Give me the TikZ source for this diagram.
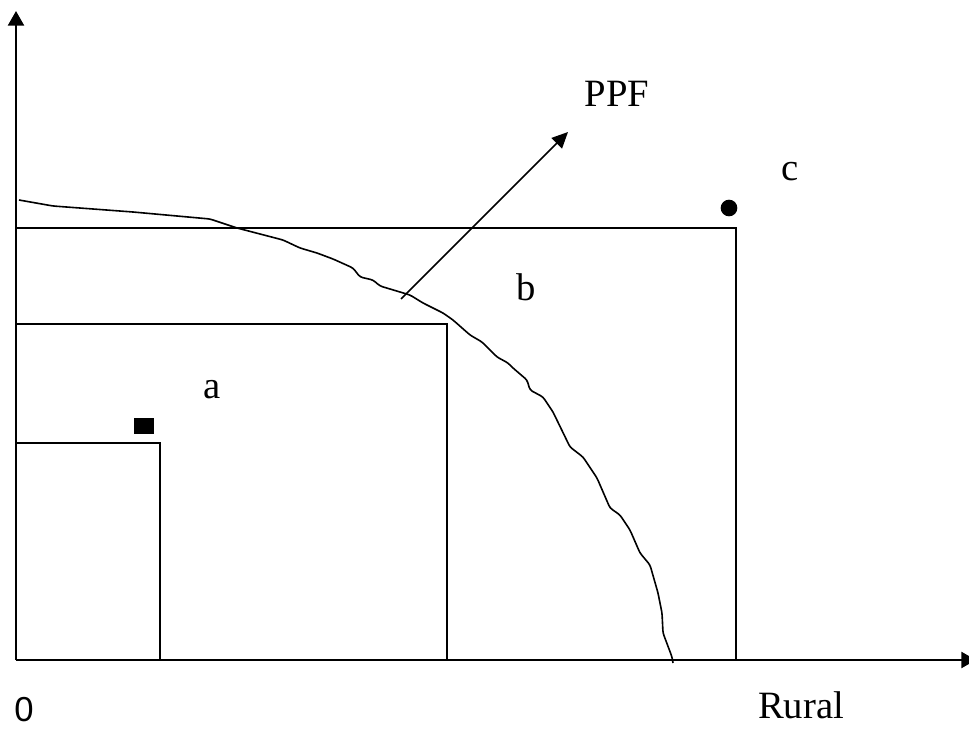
\documentclass[tikz,border=0pt]{standalone}
\usepackage{fontspec}
\setmainfont{Liberation Serif}
\newfontfamily\zerofont{Liberation Sans}
\usetikzlibrary{arrows.meta}

\begin{document}
\begin{tikzpicture}[x=0.75pt,y=-0.75pt,
  axis/.style={line width=1.7pt,-{Triangle[length=11pt,width=12pt]}},
  box/.style={line width=1.3pt},
  lbl/.style={font=\fontsize{29}{32}\selectfont,anchor=base,inner sep=0pt}]
  \useasboundingbox (0,0) rectangle (969,730);
  % axes
  \coordinate (O) at (16,660);
  \coordinate (ytop) at (16,11);
  \coordinate (xend) at (976,660);
  \draw[axis] (O) -- (ytop);
  \draw[axis] (O) -- (xend);
  % nested boxes
  \foreach \r/\t in {160/443, 447/324, 736/228}
    \draw[box] (16,\t) -- (\r,\t) -- (\r,660);
  % PPF curve
  \draw[line width=1.2pt,rounded corners=2pt] (19,200) -- (53,206) -- (133,212) -- (210,219) -- (237,228)
    -- (283,240) -- (300,248) -- (317,253) -- (333,259) -- (353,268) -- (360,277)
    -- (373,280) -- (380,286) -- (400,292) -- (410,295) -- (423,303) -- (443,313)
    -- (453,320) -- (470,335) -- (482,342) -- (497,357) -- (508,363) -- (513,368)
    -- (527,380) -- (530,390) -- (543,397) -- (553,412) -- (570,447) -- (583,457)
    -- (597,478) -- (610,508) -- (620,515) -- (630,530) -- (640,553) -- (650,565)
    -- (658,593) -- (662,613) -- (663,633) -- (672,657) -- (673,663);
  % points and labels
  \node[fill=black,inner sep=0pt,minimum width=15pt,minimum height=12pt] (sq) at (144,426) {};
  \node[circle,fill=black,inner sep=0pt,minimum size=12.5pt] (dot) at (729,208) {};
  \coordinate (ppfstart) at (401,299);
  \coordinate (ppftip) at (568,132);
  \draw[line width=1.3pt,-{Triangle[length=12pt,width=11pt]}] (ppfstart) -- (ppftip);
  \node[lbl] (ppf) at (617,107) {PPF};
  \node[lbl] (la) at (212,398) {a};
  \node[lbl] (lb) at (526,301) {b};
  \node[lbl] (lc) at (790,181) {c};
  \node[lbl] (rural) at (801,718) {Rural};
  \node[font=\zerofont\fontsize{26}{28}\selectfont,anchor=base,inner sep=0pt] (zero) at (24,721) {0};
\end{tikzpicture}
\end{document}
